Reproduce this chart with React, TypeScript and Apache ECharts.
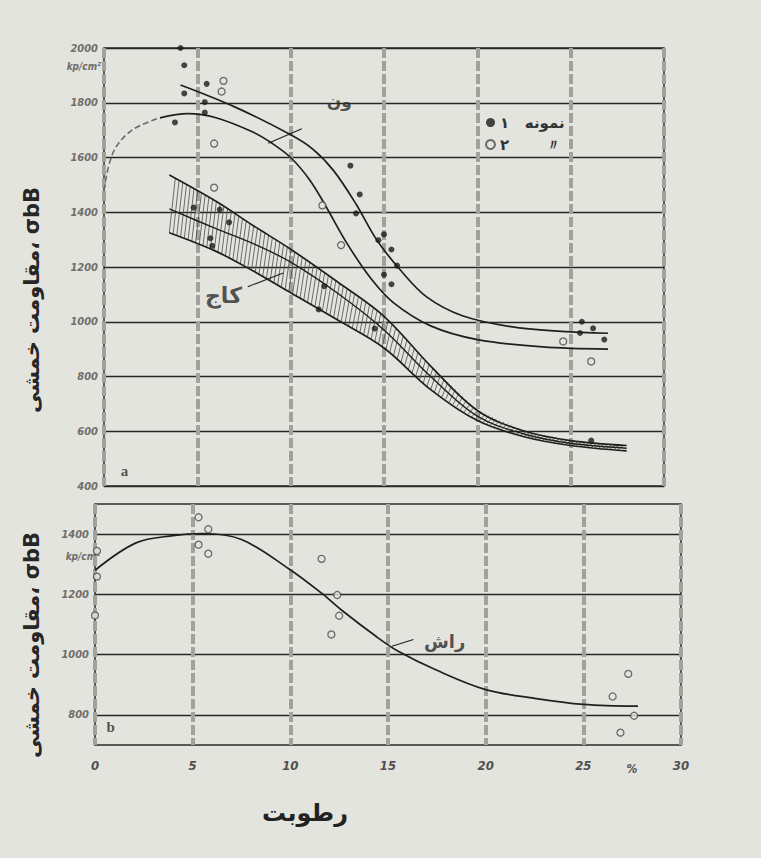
import React, { useEffect, useRef } from 'react';
import * as echarts from 'echarts';

// ---------- data ----------
const S1 = 'نمونه ۱';
const S2 = 'نمونه ۲';
const X_TITLE = 'رطوبت';
const Y_TITLE = 'مقاومت خمشی، σbB';
const UNIT = 'kp/cm²';

// upper panel (a): ash "ون", sample 1 curve
const ashCurve1: number[][] = [
  [4.1, 1865], [7, 1785], [10, 1683], [11.2, 1630], [12.3, 1552], [13.5, 1430], [14.6, 1300],
  [15.9, 1187], [17.3, 1090], [19.2, 1022], [21.8, 982], [24.5, 965], [27, 958],
];
// ash sample 2 curve (dashed start, then solid)
const ashCurve2Dashed: number[][] = [[0, 1480], [0.5, 1620], [1.5, 1700], [3, 1745]];
const ashCurve2: number[][] = [
  [3, 1745], [4.5, 1760], [6, 1745], [8, 1692], [9, 1652], [10, 1600], [11, 1520],
  [11.8, 1432], [13, 1288], [14.3, 1158], [15.5, 1070], [17.5, 985], [20, 935],
  [23.5, 908], [27, 900],
];
// pine "کاج" band
const pineX = [3.5, 6, 8, 10, 12.5, 15, 17.5, 20, 22.5, 25, 28];
const pineUpper = [1536, 1440, 1351, 1265, 1146, 1020, 838, 676, 601, 566, 548];
const pineMiddle = [1412, 1340, 1285, 1218, 1105, 970, 800, 655, 590, 556, 538];
const pineLower = [1325, 1257, 1185, 1106, 1007, 904, 752, 639, 580, 548, 528];

const topSample1: number[][] = [
  [4.1, 2000], [4.3, 1937], [5.5, 1869], [4.3, 1834], [5.4, 1802], [5.4, 1764], [3.8, 1728],
  [13.2, 1570], [13.7, 1465], [13.5, 1396], [15, 1319], [14.7, 1298], [15.4, 1264],
  [15.7, 1205], [15, 1172], [15.4, 1137],
  [6.2, 1410], [6.7, 1363], [5.7, 1305], [5.8, 1277], [4.8, 1417],
  [11.8, 1130], [11.5, 1045], [14.5, 975],
  [25.6, 1000], [26.2, 976], [26.8, 935], [25.5, 959], [26.1, 566],
];
const topSample2: number[][] = [
  [6.4, 1880], [6.3, 1841], [5.9, 1651], [5.9, 1490], [11.7, 1425], [12.7, 1280],
  [24.6, 928], [26.1, 855],
];

// lower panel (b): beech "راش"
const beechCurve: number[][] = [
  [0, 1280], [2.1, 1371], [4, 1395], [5.5, 1402], [7.5, 1382], [9.9, 1286], [11.6, 1204],
  [12.6, 1149], [14.4, 1060], [15.5, 1012], [17.5, 948], [20, 884], [22.5, 855],
  [25, 835], [27.8, 829],
];
const bottomSample2: number[][] = [
  [5.3, 1456], [5.8, 1416], [5.3, 1365], [5.8, 1335], [0.1, 1344], [0.1, 1259], [0, 1130],
  [11.6, 1318], [12.4, 1198], [12.5, 1129], [12.1, 1067],
  [27.3, 936], [26.5, 861], [27.6, 797], [26.9, 741],
];

// curve labels and leader lines
const topLabels = [
  { pos: [12.6, 1805], text: 'ون', size: 17 },
  { pos: [6.4, 1095], text: 'کاج', size: 22 },
  { pos: [1.1, 455], text: 'a', size: 15 },
];
const bottomLabels = [
  { pos: [17.9, 1045], text: 'راش', size: 18 },
  { pos: [0.8, 760], text: 'b', size: 15 },
];
const ashLeader: number[][] = [[10.6, 1705], [8.8, 1652]];
const pineLeader: number[][] = [[7.7, 1128], [9.6, 1178]];
const beechLeader: number[][] = [[15.2, 1028], [16.3, 1050]];

// ---------- styling ----------
const PAPER = '#e4e4df';
const INK = '#1f1f1f';
const FA = '"DejaVu Sans", sans-serif';
const NUM = '"DejaVu Sans Condensed", "DejaVu Sans", sans-serif';

function interp(xs: number[], ys: number[], x: number): number {
  for (let i = 0; i < xs.length - 1; i++) {
    if (x <= xs[i + 1]) {
      return ys[i] + ((ys[i + 1] - ys[i]) * (x - xs[i])) / (xs[i + 1] - xs[i]);
    }
  }
  return ys[ys.length - 1];
}

function lineSeries(data: number[][], gi: number, extra: any = {}) {
  return {
    type: 'line',
    xAxisIndex: gi,
    yAxisIndex: gi,
    data,
    smooth: 0.35,
    showSymbol: false,
    silent: true,
    lineStyle: { color: INK, width: 1.7, ...(extra.lineStyle || {}) },
    z: 3,
    ...extra.rest,
  };
}

function labelSeries(items: any[], gi: number) {
  return {
    type: 'scatter',
    xAxisIndex: gi,
    yAxisIndex: gi,
    symbolSize: 0,
    silent: true,
    z: 6,
    data: items.map((d) => ({
      value: d.pos,
      label: {
        show: true,
        position: 'inside',
        formatter: d.text,
        fontSize: d.size,
        fontFamily: d.text.length === 1 ? 'serif' : FA,
        fontWeight: 'bold',
        color: '#2a2a2a',
      },
    })),
  };
}

export default function App() {
  const ref = useRef<HTMLDivElement>(null);

  useEffect(() => {
    if (!ref.current) return;
    const chart = echarts.init(ref.current, null, { renderer: 'svg' });

    const yLabel = {
      fontFamily: NUM,
      fontStyle: 'italic',
      fontWeight: 'bold',
      fontSize: 11,
      color: '#6e6e6a',
      margin: 6,
      formatter: (v: number) => String(v),
    };
    const vSplit = { show: true, lineStyle: { color: '#a2a29d', width: 4, type: [10, 3] } };

    const option: any = {
      animation: false,
      backgroundColor: PAPER,
      grid: [
        { left: 104, top: 48, width: 560, height: 438, show: true, borderColor: '#2b2b2b', borderWidth: 1.5 },
        { left: 95, top: 504, width: 586, height: 241, show: true, borderColor: '#2b2b2b', borderWidth: 1.5 },
      ],
      xAxis: [
        {
          gridIndex: 0, type: 'value', min: 0, max: 30, interval: 5,
          axisLabel: { show: false }, axisTick: { show: false }, axisLine: { show: false },
          splitLine: vSplit,
        },
        {
          gridIndex: 1, type: 'value', min: 0, max: 30, interval: 5,
          axisTick: { show: false }, axisLine: { show: false },
          splitLine: vSplit,
          axisLabel: {
            fontFamily: NUM, fontStyle: 'italic', fontWeight: 'bold', fontSize: 13,
            color: '#505050', margin: 14,
          },
          name: X_TITLE,
          nameLocation: 'middle',
          nameGap: 56,
          nameTextStyle: {
            fontFamily: FA, fontWeight: 'bold', fontSize: 24, color: '#222',
            padding: [0, 166, 0, 0],
          },
        },
      ],
      yAxis: [
        {
          gridIndex: 0, type: 'value', min: 400, max: 2000, interval: 200,
          axisTick: { show: false }, axisLine: { show: false },
          axisLabel: yLabel,
          splitLine: { show: true, lineStyle: { color: '#262626', width: 1.4 } },
        },
        {
          gridIndex: 1, type: 'value', min: 700, max: 1500, interval: 100,
          axisTick: { show: false }, axisLine: { show: false },
          axisLabel: { ...yLabel, formatter: (v: number) => (v % 200 === 0 ? String(v) : '') },
          splitLine: { show: true, lineStyle: { color: ['transparent', '#262626'], width: 1.4 } },
        },
      ],
      legend: {
        left: 480,
        top: 110,
        orient: 'vertical',
        itemGap: 7,
        itemWidth: 9,
        itemHeight: 9,
        data: [S1, S2],
        formatter: (name: string) => (name === S2 ? '۲       〃' : '\u202Bنمونه   ۱\u202C'),
        textStyle: { fontFamily: FA, fontSize: 15, fontWeight: 'bold', color: '#333' },
      },
      graphic: [
        {
          type: 'text', x: 32, y: 300, rotation: Math.PI / 2,
          style: {
            text: Y_TITLE, fill: '#262626', align: 'center', verticalAlign: 'middle',
            fontFamily: FA, fontWeight: 'bold', fontSize: 21,
          },
        },
        {
          type: 'text', x: 32, y: 645, rotation: Math.PI / 2,
          style: {
            text: Y_TITLE, fill: '#262626', align: 'center', verticalAlign: 'middle',
            fontFamily: FA, fontWeight: 'bold', fontSize: 21,
          },
        },
        {
          type: 'text', x: 101, y: 66,
          style: {
            text: UNIT, fill: '#6e6e6a', align: 'right', verticalAlign: 'middle',
            fontFamily: NUM, fontStyle: 'italic', fontWeight: 'bold', fontSize: 10,
          },
        },
        {
          type: 'text', x: 100, y: 556,
          style: {
            text: UNIT, fill: '#6e6e6a', align: 'right', verticalAlign: 'middle',
            fontFamily: NUM, fontStyle: 'italic', fontWeight: 'bold', fontSize: 10,
          },
        },
        {
          type: 'text', x: 632, y: 769,
          style: {
            text: '%', fill: '#505050', align: 'center', verticalAlign: 'middle',
            fontFamily: NUM, fontStyle: 'italic', fontWeight: 'bold', fontSize: 12,
          },
        },
      ],
      series: [
        // pine band hatching
        {
          type: 'custom',
          xAxisIndex: 0,
          yAxisIndex: 0,
          silent: true,
          z: 2,
          data: [[pineX[0], pineLower[0]]],
          encode: { x: 0, y: 1 },
          renderItem: (_params: any, api: any) => {
            const children: any[] = [];
            const last = pineX[pineX.length - 1];
            for (let x = pineX[0]; x + 0.32 <= last; x += 0.2) {
              const p1 = api.coord([x, interp(pineX, pineLower, x)]);
              const p2 = api.coord([x + 0.32, interp(pineX, pineUpper, x + 0.32)]);
              children.push({
                type: 'line',
                shape: { x1: p1[0], y1: p1[1], x2: p2[0], y2: p2[1] },
                style: { stroke: '#4a4a4a', lineWidth: 0.8 },
              });
            }
            return { type: 'group', children };
          },
        },
        lineSeries(pineX.map((x, i) => [x, pineUpper[i]]), 0),
        lineSeries(pineX.map((x, i) => [x, pineMiddle[i]]), 0, { lineStyle: { width: 1.4 } }),
        lineSeries(pineX.map((x, i) => [x, pineLower[i]]), 0),
        lineSeries(ashCurve1, 0),
        lineSeries(ashCurve2Dashed, 0, { lineStyle: { type: [6, 3], color: '#6a6a6a', width: 1.6 } }),
        lineSeries(ashCurve2, 0),
        lineSeries(ashLeader, 0, { lineStyle: { width: 1.1 }, rest: { smooth: false } }),
        lineSeries(pineLeader, 0, { lineStyle: { width: 1.1 }, rest: { smooth: false } }),
        {
          name: S1,
          type: 'scatter',
          xAxisIndex: 0,
          yAxisIndex: 0,
          symbol: 'circle',
          symbolSize: 6,
          z: 5,
          itemStyle: { color: '#1a1a1a' },
          data: topSample1,
        },
        {
          name: S2,
          type: 'scatter',
          xAxisIndex: 0,
          yAxisIndex: 0,
          symbol: 'circle',
          symbolSize: 7,
          z: 5,
          itemStyle: { color: PAPER, borderColor: '#4a4a4a', borderWidth: 1.3 },
          data: topSample2,
        },
        labelSeries(topLabels, 0),
        // lower panel
        lineSeries(beechCurve, 1),
        lineSeries(beechLeader, 1, { lineStyle: { width: 1.1 }, rest: { smooth: false } }),
        {
          name: S2,
          type: 'scatter',
          xAxisIndex: 1,
          yAxisIndex: 1,
          symbol: 'circle',
          symbolSize: 7,
          z: 5,
          itemStyle: { color: PAPER, borderColor: '#4a4a4a', borderWidth: 1.3 },
          data: bottomSample2,
        },
        labelSeries(bottomLabels, 1),
      ],
    };

    chart.setOption(option);
    return () => chart.dispose();
  }, []);

  return (
    <div
      ref={ref}
      style={{ position: 'fixed', left: 0, top: 0, width: 761, height: 858, background: PAPER }}
    />
  );
}
